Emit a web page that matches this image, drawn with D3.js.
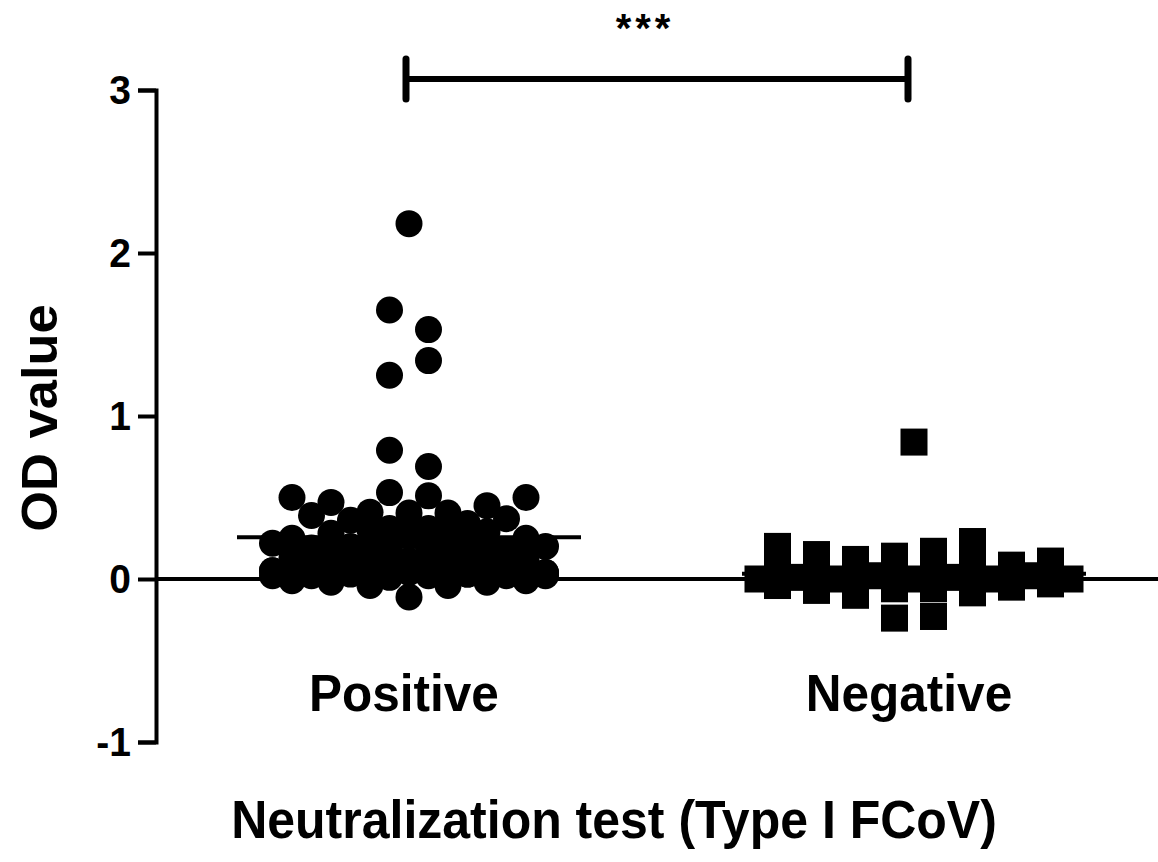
<!DOCTYPE html>
<html>
<head>
<meta charset="utf-8">
<script src="https://cdn.jsdelivr.net/npm/d3@7"></script>
<style>
  body { margin: 0; background: #fff; }
  text { font-family: "Liberation Sans", Arial, sans-serif; fill: #000; }
</style>
</head>
<body>
<svg id="chart" width="1158" height="862"></svg>
<script>
// ---- data ----------------------------------------------------------------
const categories = ["Positive", "Negative"];
const yTicks = [-1, 0, 1, 2, 3];
const yLabel = "OD value";
const xTitle = "Neutralization test (Type I FCoV)";
const significance = "***";

// OD values, grouped into symbol rows (each row listed left to right)
const positiveRows = [
  [2.18],
  [1.65, 1.53],
  [1.25, 1.34],
  [0.79, 0.69],
  [0.53, 0.51],
  [0.50, 0.47, 0.41, 0.405, 0.405, 0.45, 0.50],
  [0.39, 0.36, 0.31, 0.31, 0.34, 0.37],
  [0.28, 0.30, 0.31, 0.30, 0.29],
  [0.25, 0.24, 0.23, 0.26, 0.24, 0.23, 0.25],
  [0.22, 0.19, 0.20, 0.18, 0.19, 0.20, 0.18, 0.20],
  [0.13, 0.12, 0.13, 0.11, 0.12, 0.13, 0.12],
  [0.05, 0.08, 0.07, 0.09, 0.08, 0.07, 0.08, 0.04],
  [0.02, 0.04, 0.03, 0.04, 0.03, 0.05, 0.03],
  [0.05, 0.04, 0.05, 0.03, 0.04, 0.03, 0.04, 0.04],
  [0.02, 0.02, 0.03, 0.01, 0.02, 0.03, 0.02, 0.02],
  [-0.01, -0.02, -0.04, -0.11, -0.04, -0.02, -0.01]
];

const negativeRows = [
  [0.84],
  [0.20, 0.15, 0.12, 0.14, 0.17, 0.23, 0.085, 0.11],
  [0.08, 0.05, 0.04, 0.06, 0.07, 0.09, 0.03, 0.05],
  [0.00, 0.01, 0.00, 0.02, 0.00, 0.01, 0.00, 0.02, 0.00],
  [-0.02, -0.01, -0.03, -0.02, -0.02, -0.03, -0.01, -0.02],
  [-0.04, -0.07, -0.10, -0.06, -0.06, -0.085, -0.05, -0.03],
  [-0.24, -0.23]
];

// ---- layout --------------------------------------------------------------
const W = 1158, H = 862;
const svg = d3.select("#chart");
const stretch = "scale(1,1.06)";

const y = d3.scaleLinear().domain([-1, 3]).range([742, 90]);
const x = d3.scalePoint().domain(categories).range([409, 914]);
const axisX = 156;

const slotStep = 39;      // horizontal distance between neighbours in a row
const meanHalf = 172;     // half width of the mean bar
const dotR = 13.5;
const sq = 27;

function layoutRows(rows, cx) {
  const pts = [];
  rows.forEach(row => {
    const n = row.length;
    row.forEach((v, i) => pts.push({ v, x: cx + (i - (n - 1) / 2) * slotStep }));
  });
  return pts;
}

const posPts = layoutRows(positiveRows, x("Positive"));
const negPts = layoutRows(negativeRows, x("Negative"));
const posMean = d3.mean(positiveRows.flat());
const negMean = d3.mean(negativeRows.flat());

// ---- y axis ----------------------------------------------------------------
const yAxis = d3.axisLeft(y).tickValues(yTicks).tickSize(18).tickPadding(7)
  .tickFormat(d => String(d));
const gy = svg.append("g").attr("transform", `translate(${axisX},0)`).call(yAxis);
gy.select(".domain").attr("stroke", "#000").attr("stroke-width", 4).attr("fill", "none");
gy.selectAll(".tick line").attr("stroke", "#000").attr("stroke-width", 4);
gy.selectAll(".tick text")
  .attr("font-size", 39).attr("font-weight", "bold").attr("fill", "#000")
  .attr("font-family", '"Liberation Sans", Arial, sans-serif')
  .attr("transform", stretch);

// zero baseline across the plot
svg.append("line")
  .attr("x1", axisX).attr("x2", W)
  .attr("y1", y(0)).attr("y2", y(0))
  .attr("stroke", "#000").attr("stroke-width", 4);

// ---- points -----------------------------------------------------------------
svg.append("g").selectAll("circle").data(posPts).join("circle")
  .attr("cx", d => d.x).attr("cy", d => y(d.v)).attr("r", dotR).attr("fill", "#000");

svg.append("g").selectAll("rect").data(negPts).join("rect")
  .attr("x", d => d.x - sq / 2).attr("y", d => y(d.v) - sq / 2)
  .attr("width", sq).attr("height", sq).attr("fill", "#000");

// mean bars
svg.append("g").selectAll("line").data([
  { c: "Positive", m: posMean }, { c: "Negative", m: negMean }
]).join("line")
  .attr("x1", d => x(d.c) - meanHalf).attr("x2", d => x(d.c) + meanHalf)
  .attr("y1", d => y(d.m)).attr("y2", d => y(d.m))
  .attr("stroke", "#000").attr("stroke-width", 4);

// ---- significance bracket ---------------------------------------------------
const bx1 = x("Positive") - 3, bx2 = x("Negative") - 6, by = 79;
const br = svg.append("g").attr("stroke", "#000").attr("stroke-linecap", "round");
br.append("line").attr("x1", bx1).attr("x2", bx2).attr("y1", by).attr("y2", by).attr("stroke-width", 6);
br.append("line").attr("x1", bx1).attr("x2", bx1).attr("y1", by - 20).attr("y2", by + 20).attr("stroke-width", 7);
br.append("line").attr("x1", bx2).attr("x2", bx2).attr("y1", by - 20).attr("y2", by + 20).attr("stroke-width", 7);
svg.append("text")
  .attr("transform", `translate(${(bx1 + bx2) / 2 - 12},42)`)
  .attr("text-anchor", "middle").attr("font-size", 40).attr("font-weight", "bold")
  .attr("letter-spacing", 4)
  .text(significance);

// ---- category labels and titles -------------------------------------------
svg.append("g").selectAll("text").data(categories).join("text")
  .attr("transform", d => `translate(${x(d) - 5},711) ${stretch}`)
  .attr("text-anchor", "middle").attr("font-size", 49.5).attr("font-weight", "bold")
  .text(d => d);

svg.append("text")
  .attr("transform", `translate(614,838) ${stretch}`)
  .attr("text-anchor", "middle").attr("font-size", 50).attr("font-weight", "bold")
  .text(xTitle);

svg.append("text")
  .attr("transform", `translate(57,418) ${stretch} rotate(-90)`)
  .attr("text-anchor", "middle").attr("font-size", 49.5).attr("font-weight", "bold")
  .text(yLabel);
</script>
</body>
</html>
